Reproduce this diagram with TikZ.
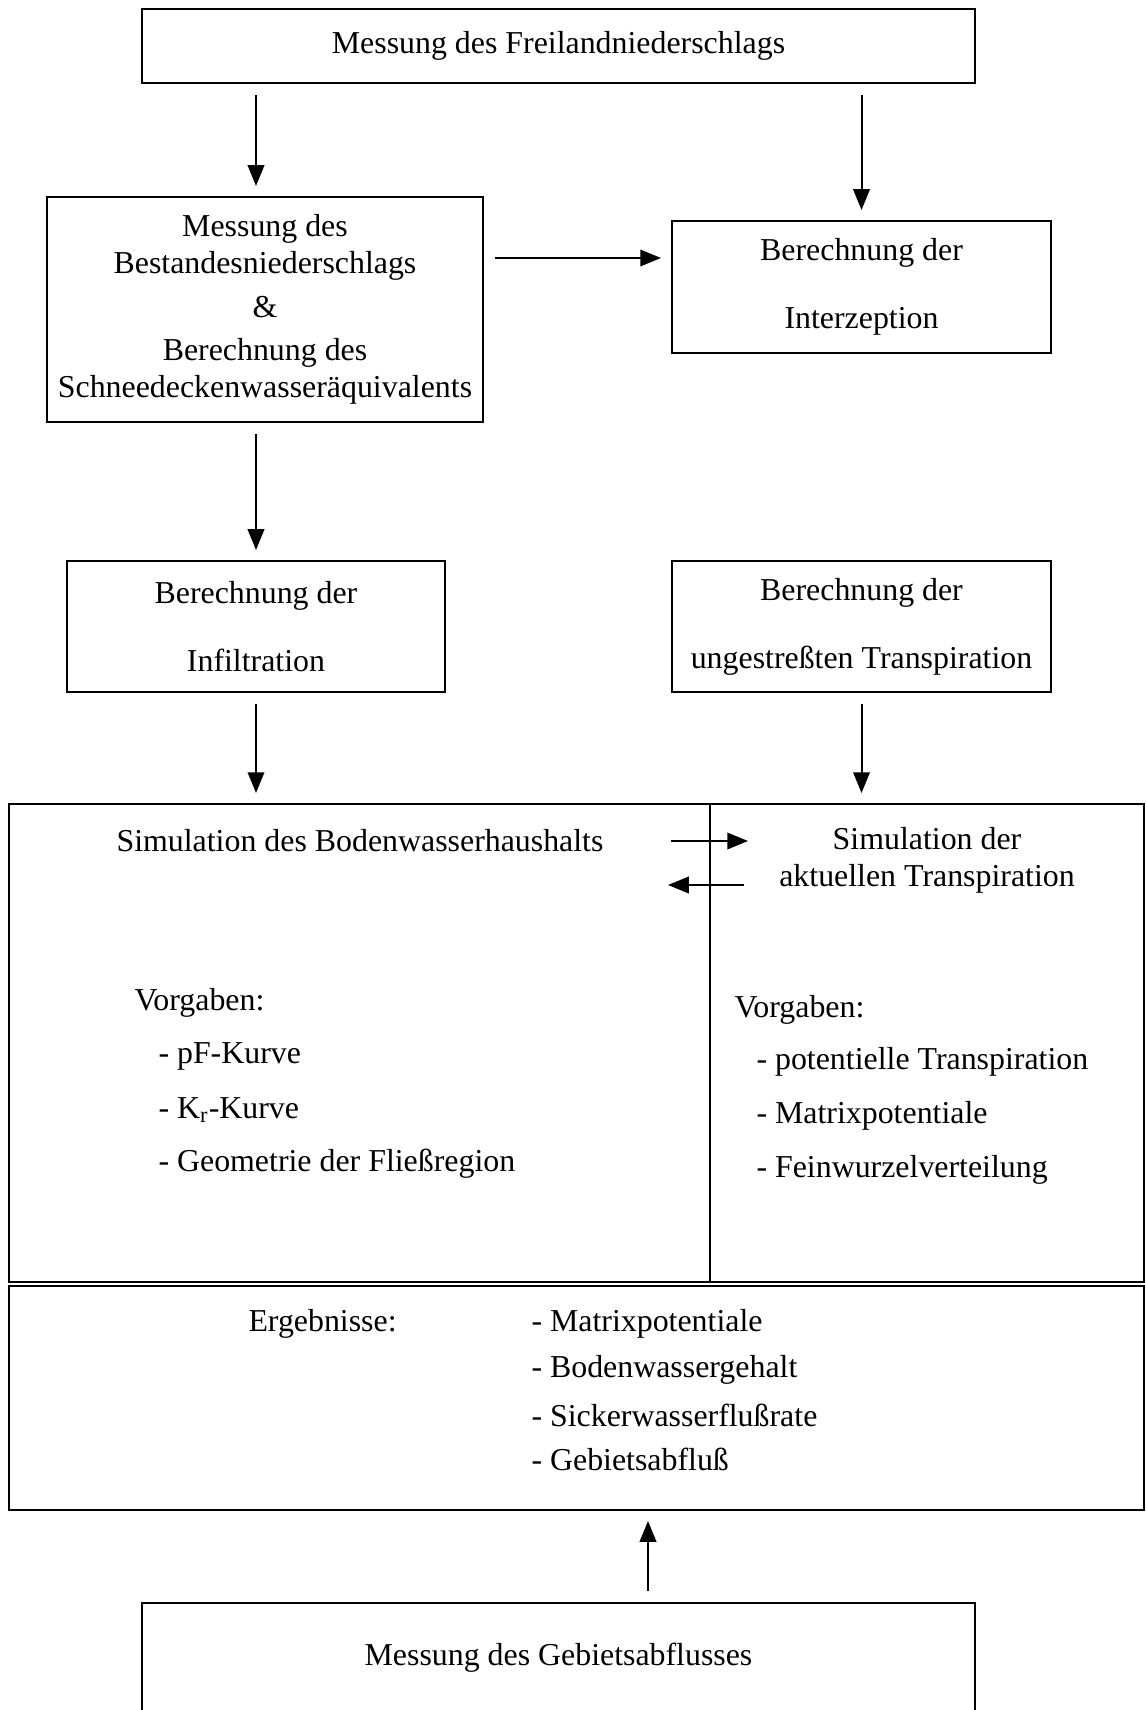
\documentclass[tikz,border=0pt]{standalone}
\usepackage{fontspec}
\setmainfont{Liberation Serif}
\usepackage{tikz}
\usetikzlibrary{arrows.meta,positioning,calc}
\tikzset{
  box/.style    ={rectangle,draw,line width=0.8pt,inner sep=0pt,align=center,font=\fontsize{12.75}{14.8}\selectfont},
  txt/.style    ={inner sep=0pt,font=\fontsize{12.75}{14.8}\selectfont},
  item/.style   ={txt,anchor=west},
  flow/.style   ={-{Triangle[length=8.3pt,width=6.6pt]},line width=0.8pt,shorten <=4.5pt,shorten >=4pt},
  link/.style   ={-{Triangle[length=8.3pt,width=6.6pt]},line width=0.8pt},
}
\begin{document}
\begin{tikzpicture}[x=0.4pt,y=-0.4pt]
  \useasboundingbox (0,0) rectangle (1145,1710);
  % upper part
  \node[box,minimum width=333.2pt,minimum height=29.6pt] (frei) at (558.5,46) {Messung des Freilandniederschlags};
  \node[box,minimum width=174.4pt,minimum height=90pt] (best) at (265,309.5)
    {Messung des\\Bestandesniederschlags\\[2.5pt]\&\\[2.5pt]Berechnung des\\Schneedeckenwasseräquivalents};
  \node[box,minimum width=151.6pt,minimum height=52.8pt] (intz) at (861.5,287) {Berechnung der\\[12.4pt]Interzeption};
  \node[box,minimum width=151.2pt,minimum height=52.4pt] (infl) at (256,626.5) {Berechnung der\\[12.4pt]Infiltration};
  \node[box,minimum width=151.6pt,minimum height=52.4pt] (utra) at (861.5,626.5) {Berechnung der\\[12.4pt]ungestreßten Transpiration};
  \draw[flow] (frei.south -| infl.north) -- (best.north -| infl.north);
  \draw[flow] (frei.south -| intz.north) -- (intz.north);
  \draw[flow] (best.east |- 0,258) -- (intz.west |- 0,258);
  \draw[flow] (best.south -| infl.north) -- (infl.north);

  % simulation
  \node[box,minimum width=280.4pt,minimum height=191.2pt] (bws) at (359.5,1043) {};
  \node[box,minimum width=173.6pt,minimum height=191.2pt] (atr) at (927,1043) {};
  \node[box,minimum width=454pt,minimum height=89.6pt] (erg) at (576.5,1398) {};
  \draw[flow] (infl.south) -- (infl.south |- bws.north);
  \draw[flow] (utra.south) -- (utra.south |- atr.north);

  \node[txt] (bwstitle) at (360,841) {Simulation des Bodenwasserhaushalts};
  \node[txt,align=center] (atrtitle) at (927,860) {Simulation der\\aktuellen Transpiration};
  \coordinate (hin1) at (671,841);
  \coordinate (hin2) at (748,841);
  \coordinate (rueck1) at (744,885);
  \coordinate (rueck2) at (668,885);
  \draw[link] (hin1) -- (hin2);
  \draw[link] (rueck1) -- (rueck2);

  \node[item] (vg1) at (134,1003) {Vorgaben:};
  \node[item] (pf) at (158,1056) {- pF-Kurve};
  \node[item] (kr) at (158,1110) {- K\textsubscript{r}-Kurve};
  \node[item] (geo) at (158,1164) {- Geometrie der Fließregion};
  \node[item] (vg2) at (734,1010) {Vorgaben:};
  \node[item] (pot) at (756,1062) {- potentielle Transpiration};
  \node[item] (mat) at (756,1116) {- Matrixpotentiale};
  \node[item] (fwv) at (756,1170) {- Feinwurzelverteilung};

  \node[item] (ergt) at (248,1324) {Ergebnisse:};
  \node[item] (e1) at (531,1324) {- Matrixpotentiale};
  \node[item] (e2) at (531,1370) {- Bodenwassergehalt};
  \node[item] (e3) at (531,1415) {- Sickerwasserflußrate};
  \node[item] (e4) at (531,1459) {- Gebietsabfluß};

  % bottom
  \node[box,minimum width=333.2pt,minimum height=62.8pt] (gab) at (558.5,1681.5) {};
  \node[txt] (gabt) at (558.5,1658) {Messung des Gebietsabflusses};
  \draw[flow] (gab.north -| 648,0) -- (erg.south -| 648,0);
\end{tikzpicture}
\end{document}
